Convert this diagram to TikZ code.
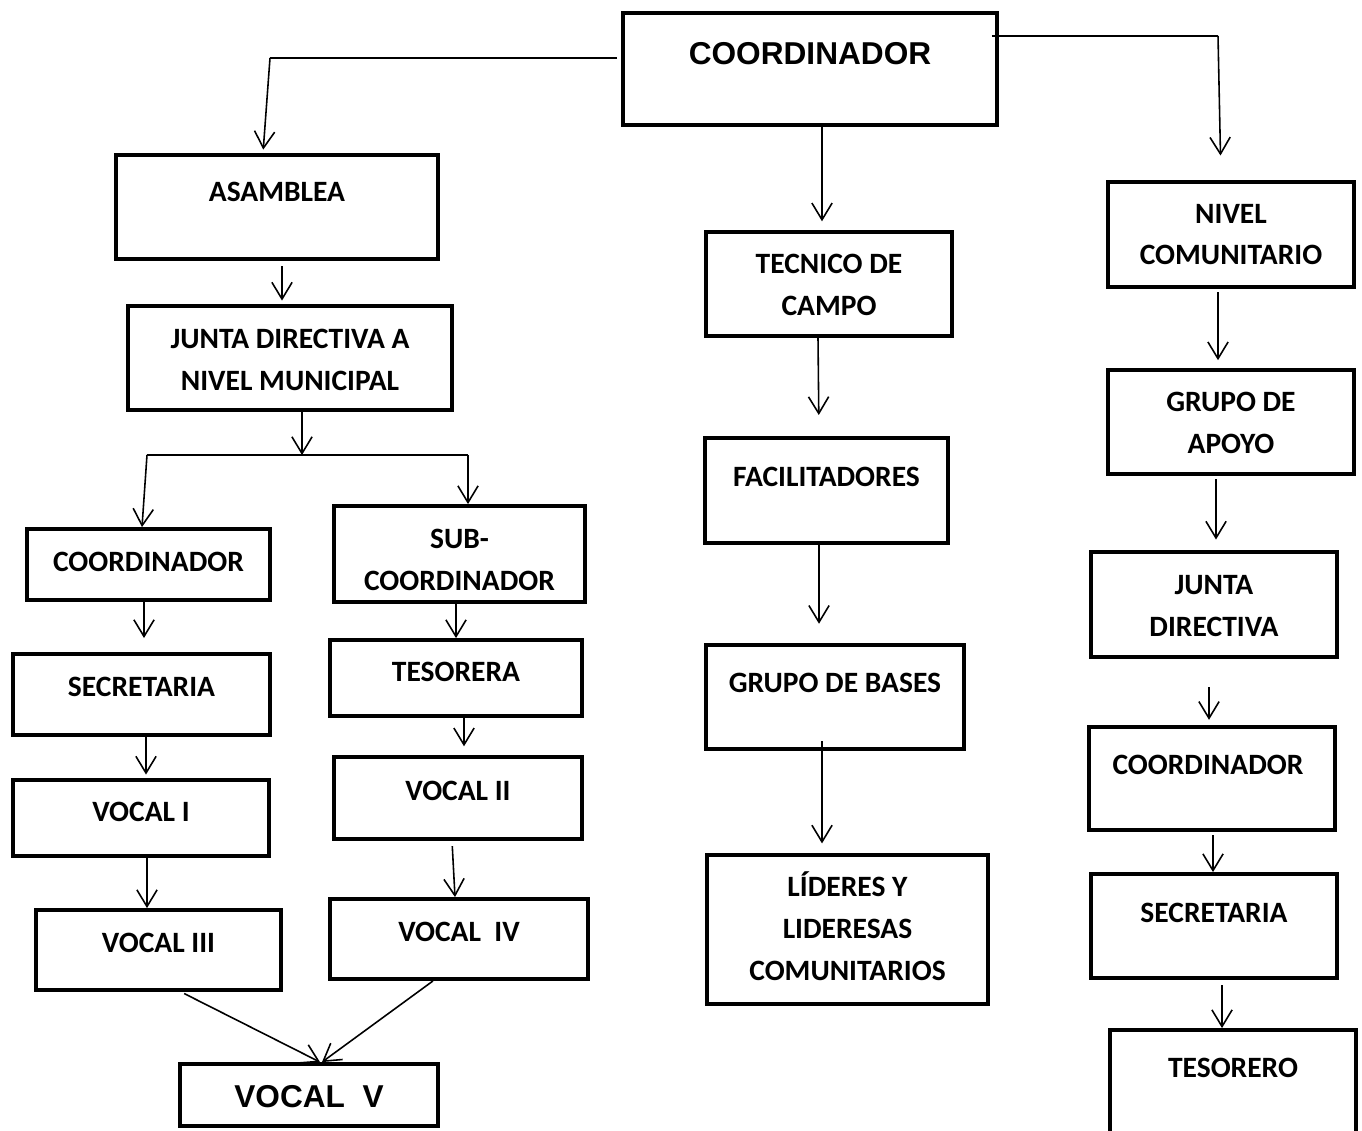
\documentclass[tikz,border=0pt]{standalone}
\usepackage{fontspec}
\setmainfont{Carlito}
\newfontfamily\arialb{Liberation Sans}
\usetikzlibrary{arrows.meta}

\begin{document}
\begin{tikzpicture}[x=0.02cm, y=-0.02cm]
    \tikzset{
    caja/.style={
        draw,
        line width=2.2pt,
        inner sep=0pt
    },
    txt/.style={
        anchor=center,
        align=center,
        font=\bfseries\fontsize{16.8}{23.8}\selectfont
    },
    txtgrande/.style={
        anchor=center,
        align=center,
        font=\arialb\bfseries\fontsize{18}{22}\selectfont
    },
    linea/.style={
        line width=0.9pt
    },
    flecha/.style={
        -{Straight Barb[length=9.5pt,width=11.5pt]}, line width=0.9pt
    }
}
    \useasboundingbox (0,0) rectangle (1362,1131);

    \node[caja, minimum width=7.48cm, minimum height=2.24cm, label={[txtgrande, yshift=-0.86cm]north:COORDINADOR}] (coordtop) at (810,69) {};

    % rama izquierda
    \node[caja, minimum width=6.44cm, minimum height=2.08cm, label={[txt, yshift=-0.77cm]north:ASAMBLEA}] (asamblea) at (277,207) {};
    \node[caja, minimum width=6.48cm, minimum height=2.08cm, label={[txt, yshift=-1.11cm]north:JUNTA DIRECTIVA A\\NIVEL MUNICIPAL}] (juntamun) at (290,358) {};
    \node[caja, minimum width=4.86cm, minimum height=1.42cm, label={[txt, yshift=-0.69cm]north:COORDINADOR}] (coordizq) at (148.5,564.5) {};
    \node[caja, minimum width=5.14cm, minimum height=1.62cm, label={[txt, yshift=-0.69cm]north:SECRETARIA}] (secizq) at (141.5,694.5) {};
    \node[caja, minimum width=5.12cm, minimum height=1.52cm, label={[txt, yshift=-0.67cm]north:VOCAL I}] (vocal1) at (141,818) {};
    \node[caja, minimum width=4.90cm, minimum height=1.60cm, label={[txt, yshift=-0.69cm]north:VOCAL III}] (vocal3) at (158.5,950) {};
    \node[caja, minimum width=5.02cm, minimum height=1.92cm, label={[txt, yshift=-1.11cm]north:SUB-\\COORDINADOR}] (subcoord) at (459.5,554) {};
    \node[caja, minimum width=5.04cm, minimum height=1.52cm, label={[txt, yshift=-0.67cm]north:TESORERA}] (tesorera) at (456,678) {};
    \node[caja, minimum width=4.96cm, minimum height=1.64cm, label={[txt, yshift=-0.71cm]north:VOCAL II}] (vocal2) at (458,798) {};
    \node[caja, minimum width=5.16cm, minimum height=1.60cm, label={[txt, yshift=-0.69cm]north:VOCAL\ \ IV}] (vocal4) at (459,939) {};
    \node[caja, minimum width=5.16cm, minimum height=1.24cm, label={[txtgrande, yshift=-0.70cm]north:VOCAL\ \ V}] (vocal5) at (309,1095) {};

    % rama central
    \node[caja, minimum width=4.92cm, minimum height=2.08cm, label={[txt, yshift=-1.09cm]north:TECNICO DE\\CAMPO}] (tecnico) at (829,284) {};
    \node[caja, minimum width=4.86cm, minimum height=2.10cm, label={[txt, yshift=-0.81cm]north:FACILITADORES}] (facil) at (826.5,490.5) {};
    \node[caja, minimum width=5.16cm, minimum height=2.08cm, label={[txt, yshift=-0.79cm]north:GRUPO DE BASES}] (gbases) at (835,697) {};
    \node[caja, minimum width=5.62cm, minimum height=2.98cm, label={[txt, yshift=-1.46cm]north:LÍDERES Y\\LIDERESAS\\COMUNITARIOS}] (lideres) at (847.5,929.5) {};

    % rama derecha
    \node[caja, minimum width=4.92cm, minimum height=2.10cm, label={[txt, yshift=-1.09cm]north:NIVEL\\COMUNITARIO}] (nivel) at (1231,234.5) {};
    \node[caja, minimum width=4.92cm, minimum height=2.08cm, label={[txt, yshift=-1.09cm]north:GRUPO DE\\APOYO}] (apoyo) at (1231,422) {};
    \node[caja, minimum width=4.92cm, minimum height=2.10cm, label={[txt, yshift=-1.12cm]north:JUNTA\\DIRECTIVA}] (juntadir) at (1214,604.5) {};
    \node[caja, minimum width=4.92cm, minimum height=2.06cm, label={[txt, xshift=-0.08cm, yshift=-0.79cm]north:COORDINADOR}] (coordder) at (1212,778.5) {};
    \node[caja, minimum width=4.92cm, minimum height=2.08cm, label={[txt, yshift=-0.81cm]north:SECRETARIA}] (secder) at (1214,926) {};
    \node[caja, minimum width=4.92cm, minimum height=2.08cm, label={[txt, yshift=-0.79cm]north:TESORERO}] (tesorero) at (1233,1082) {};

    \coordinate (codoizq) at (270,58);
    \coordinate (cododer) at (1218,36);
    \coordinate (ramal) at (302,455);
    \coordinate (ramizq) at (147,455);
    \coordinate (ramder) at (468,455);

    % Conectores
    \draw[linea] ([xshift=-0.08cm]coordtop.west |- codoizq) -- (codoizq);
    \draw[flecha, shorten >=2pt] (codoizq) -- (asamblea.north -| 263,0);
    \draw[linea] ([xshift=-0.14cm]coordtop.east |- cododer) -- (cododer);
    \draw[flecha, shorten >=14pt] (cododer) -- (nivel.north -| 1221,0);
    \draw[flecha, shorten >=5pt] (coordtop.south -| 822,0) -- (tecnico.north -| 822,0);

    \draw[flecha, shorten <=3pt, shorten >=2pt] (asamblea.south -| 282,0) -- (juntamun.north -| 282,0);
    \draw[flecha] (juntamun.south -| ramal) -- (ramal);
    \draw[linea] (ramizq) -- (ramder);
    \draw[flecha] (ramizq) -- (coordizq.north -| 142,0);
    \draw[flecha] (ramder) -- (subcoord.north -| ramder);
    \draw[flecha, shorten >=8pt] (coordizq.south -| 144,0) -- (secizq.north -| 144,0);
    \draw[flecha, shorten >=2pt] (secizq.south -| 146,0) -- (vocal1.north -| 146,0);
    \draw[flecha] (vocal1.south -| 147,0) -- (vocal3.north -| 147,0);
    \draw[flecha, shorten <=2pt] (vocal3.south -| 181,0) -- (vocal5.north -| 320,0);
    \draw[flecha] (vocal4.south -| 433,0) -- (vocal5.north -| 322,0);
    \draw[flecha] (subcoord.south -| 456,0) -- (tesorera.north -| 456,0);
    \draw[flecha, shorten >=5pt] (tesorera.south -| 464,0) -- (vocal2.north -| 464,0);
    \draw[flecha, shorten <=3pt] (vocal2.south -| 452,0) -- (vocal4.north -| 455,0);

    \draw[flecha, shorten >=12pt] (tecnico.south -| 818,0) -- (facil.north -| 819,0);
    \draw[flecha, shorten >=11pt] (facil.south -| 819,0) -- (gbases.north -| 819,0);
    \draw[flecha, shorten <=-5.5pt, shorten >=5.5pt] (gbases.south -| 822,0) -- (lideres.north -| 822,0);

    \draw[flecha, shorten <=2pt, shorten >=4.5pt] (nivel.south -| 1218,0) -- (apoyo.north -| 1218,0);
    \draw[flecha, shorten <=2pt, shorten >=6pt] (apoyo.south -| 1216,0) -- (juntadir.north -| 1216,0);
    \draw[flecha, shorten <=16pt, shorten >=3pt] (juntadir.south -| 1209,0) -- (coordder.north -| 1209,0);
    \draw[flecha, shorten <=2pt] (coordder.south -| 1213,0) -- (secder.north -| 1213,0);
    \draw[flecha, shorten <=3pt] (secder.south -| 1222,0) -- (tesorero.north -| 1222,0);
\end{tikzpicture}
\end{document}
